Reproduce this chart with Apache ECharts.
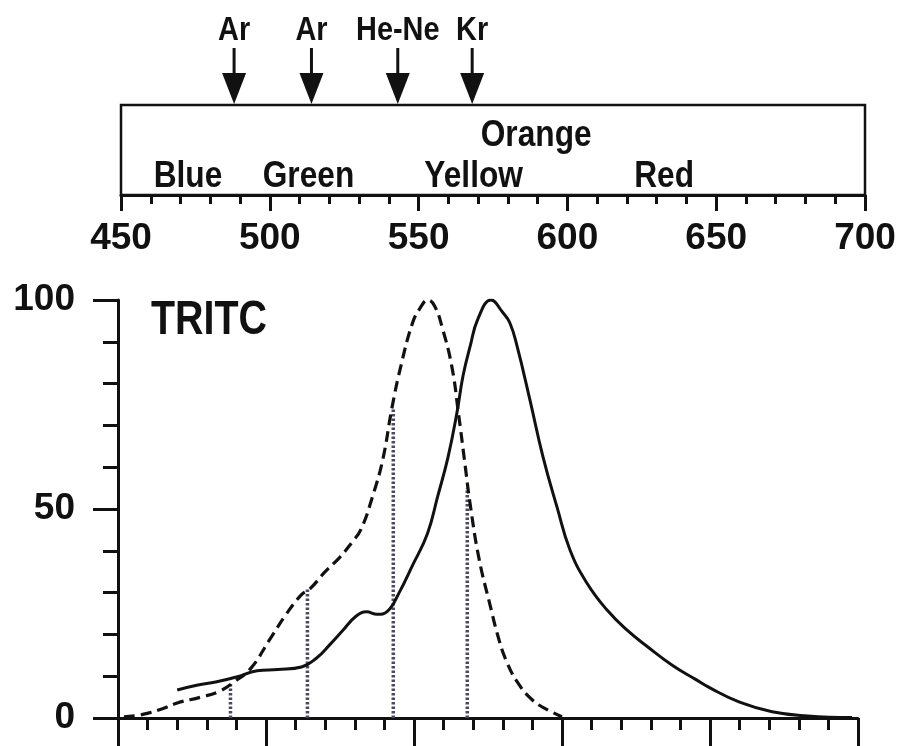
<!DOCTYPE html>
<html><head><meta charset="utf-8">
<script src="https://cdn.jsdelivr.net/npm/echarts@6/dist/echarts.min.js"></script>
<style>html,body{margin:0;padding:0;background:#fff}#c{width:902px;height:746px}</style>
</head><body><div id="c"></div>
<script>
const FONT = "'Liberation Sans','Arial',sans-serif";
const INK = '#111';

// Laser lines (nm) and the excitation level each dotted line reaches
const laserNames = ['Ar', 'Ar', 'He-Ne', 'Kr'];
const laserWavelengths = [488, 514, 543, 568];
const laserHeights = [8.5, 31, 74, 55];

// Colour band names on the wavelength strip
const bandNames = ['Blue', 'Green', 'Yellow', 'Orange', 'Red'];
const bandCenters = [472.5, 513, 568.5, 589.5, 632.5];
const bandRows = [0, 0, 0, 1, 0];

// TRITC excitation (dashed)
const exWavelengths = [452, 458, 465, 470, 478, 484, 489, 495, 501, 507, 512, 515, 520, 525, 529, 532, 536, 539.5, 542.5, 545.5, 549.5, 552, 554.7, 557, 559.5, 562.8, 565, 567, 569, 572, 575.7, 578.4, 581, 585, 590, 595, 600];
const exValues = [0.3, 0.8, 2.2, 3.6, 5.0, 6.3, 8.5, 12, 18.5, 25, 29.5, 31, 35, 38.5, 42, 45, 53, 62, 74, 84, 94.5, 98, 100, 98.5, 93.5, 84, 73, 62, 51, 38, 27, 19.5, 14, 8.5, 4.3, 2, 0.3];

// TRITC emission (solid)
const emWavelengths = [470, 477, 483, 490, 497, 504, 512, 517, 521.5, 526, 530.5, 534, 537.5, 541, 545, 549.5, 554.5, 558, 561.5, 564.5, 566.6, 569, 571.6, 576, 580, 582.4, 584.8, 589.2, 593.6, 598.3, 602.7, 608.4, 615, 622, 629, 637.5, 645, 650, 660, 671, 683, 698];
const emValues = [6.7, 7.9, 8.6, 9.8, 11.3, 11.6, 12.2, 14.3, 17.5, 21, 24.4, 25.4, 24.8, 25.5, 30, 36.5, 44, 53, 62.4, 73, 82, 89, 95.5, 100, 97, 94.5, 89, 76, 62.4, 50.5, 40.2, 32.3, 26, 21, 17, 12.5, 9.3, 7.2, 3.8, 1.5, 0.5, 0.1];

const chart = echarts.init(document.getElementById('c'), null, {renderer: 'canvas'});

const axisLabelStyle = {fontSize: 37, fontWeight: 'bold', fontFamily: FONT, color: INK};

function narrowText(x, y, text, size, sx) {
  return {type: 'text', x: x, y: y, scaleX: sx,
          style: {text: text, fill: INK, font: 'bold ' + size + 'px ' + FONT,
                  align: 'center', verticalAlign: 'middle'}};
}

chart.setOption({
  animation: false,
  backgroundColor: '#fff',
  graphic: [
    {type: 'text', x: 151, y: 321, scaleX: 0.82,
     style: {text: 'TRITC', fill: INK, font: 'bold 48px ' + FONT, align: 'left', verticalAlign: 'middle'}}
  ],
  grid: [
    {left: 121, right: 37, top: 105, height: 90, show: true, borderColor: INK, borderWidth: 2.5,
     backgroundColor: 'transparent', outerBoundsMode: 'none'},
    {left: 118, right: 44, top: 300, bottom: 28, outerBoundsMode: 'none'}
  ],
  xAxis: [
    {gridIndex: 0, type: 'value', min: 450, max: 700, interval: 50, position: 'bottom',
     axisLine: {show: true, onZero: false, lineStyle: {color: INK, width: 3}},
     axisTick: {show: true, inside: false, length: 16, lineStyle: {color: INK, width: 3}},
     minorTick: {show: true, splitNumber: 5, length: 9, lineStyle: {color: INK, width: 3}},
     axisLabel: Object.assign({margin: 25, showMinLabel: true, showMaxLabel: true, hideOverlap: false}, axisLabelStyle),
     splitLine: {show: false}},
    {gridIndex: 1, type: 'value', min: 450, max: 700, interval: 50,
     axisLine: {show: true, onZero: false, lineStyle: {color: INK, width: 3}},
     axisTick: {show: true, inside: false, length: 30, lineStyle: {color: INK, width: 3}},
     minorTick: {show: true, splitNumber: 5, length: 12, lineStyle: {color: INK, width: 3}},
     axisLabel: {show: false},
     splitLine: {show: false}}
  ],
  yAxis: [
    {gridIndex: 0, type: 'value', min: 0, max: 1, show: false},
    {gridIndex: 1, type: 'value', min: 0, max: 100, interval: 50,
     axisLine: {show: true, lineStyle: {color: INK, width: 3}},
     axisTick: {show: true, inside: false, length: 25, lineStyle: {color: INK, width: 3}},
     minorTick: {show: true, splitNumber: 5, length: 15, lineStyle: {color: INK, width: 3}},
     axisLabel: Object.assign({margin: 43}, axisLabelStyle),
     splitLine: {show: false}}
  ],
  series: [
    {
      name: 'laser lines', type: 'custom', xAxisIndex: 1, yAxisIndex: 1, clip: false, z: 1,
      data: laserWavelengths.map((w, i) => [w, laserHeights[i]]),
      renderItem: function (params, api) {
        const p0 = api.coord([api.value(0), 0]);
        const p1 = api.coord([api.value(0), api.value(1)]);
        return {type: 'line', shape: {x1: p0[0], y1: p0[1], x2: p1[0], y2: p1[1]},
                style: {stroke: '#4a4a66', lineWidth: 3.5, lineDash: [2.5, 2]}};
      }
    },
    {
      name: 'Excitation', type: 'line', xAxisIndex: 1, yAxisIndex: 1, z: 3,
      data: exWavelengths.map((w, i) => [w, exValues[i]]),
      smooth: 0.45, showSymbol: false, symbol: 'none',
      lineStyle: {color: INK, width: 3.2, type: [11, 6]}
    },
    {
      name: 'Emission', type: 'line', xAxisIndex: 1, yAxisIndex: 1, z: 3,
      data: emWavelengths.map((w, i) => [w, emValues[i]]),
      smooth: 0.45, showSymbol: false, symbol: 'none',
      lineStyle: {color: INK, width: 3}
    },
    {
      name: 'arrows', type: 'custom', xAxisIndex: 0, yAxisIndex: 0, clip: false,
      data: laserWavelengths.map(w => [w, 1]),
      renderItem: function (params, api) {
        const p = api.coord([api.value(0), api.value(1)]);
        const x = p[0], y = p[1] - 1;
        return {type: 'group', children: [
          {type: 'line', shape: {x1: x, y1: y - 56, x2: x, y2: y - 26}, style: {stroke: INK, lineWidth: 3}},
          {type: 'polygon', shape: {points: [[x - 12, y - 31], [x + 12, y - 31], [x, y]]}, style: {fill: INK}},
          narrowText(x, y - 73, laserNames[params.dataIndex], 34, 0.85)
        ]};
      }
    },
    {
      name: 'bands', type: 'custom', xAxisIndex: 0, yAxisIndex: 0, clip: false,
      data: bandCenters.map((c, i) => [c, bandRows[i] ? 0.66 : 0.2]),
      renderItem: function (params, api) {
        const p = api.coord([api.value(0), api.value(1)]);
        return narrowText(p[0], p[1], bandNames[params.dataIndex], 36, 0.88);
      }
    }
  ]
});
</script>
</body></html>
